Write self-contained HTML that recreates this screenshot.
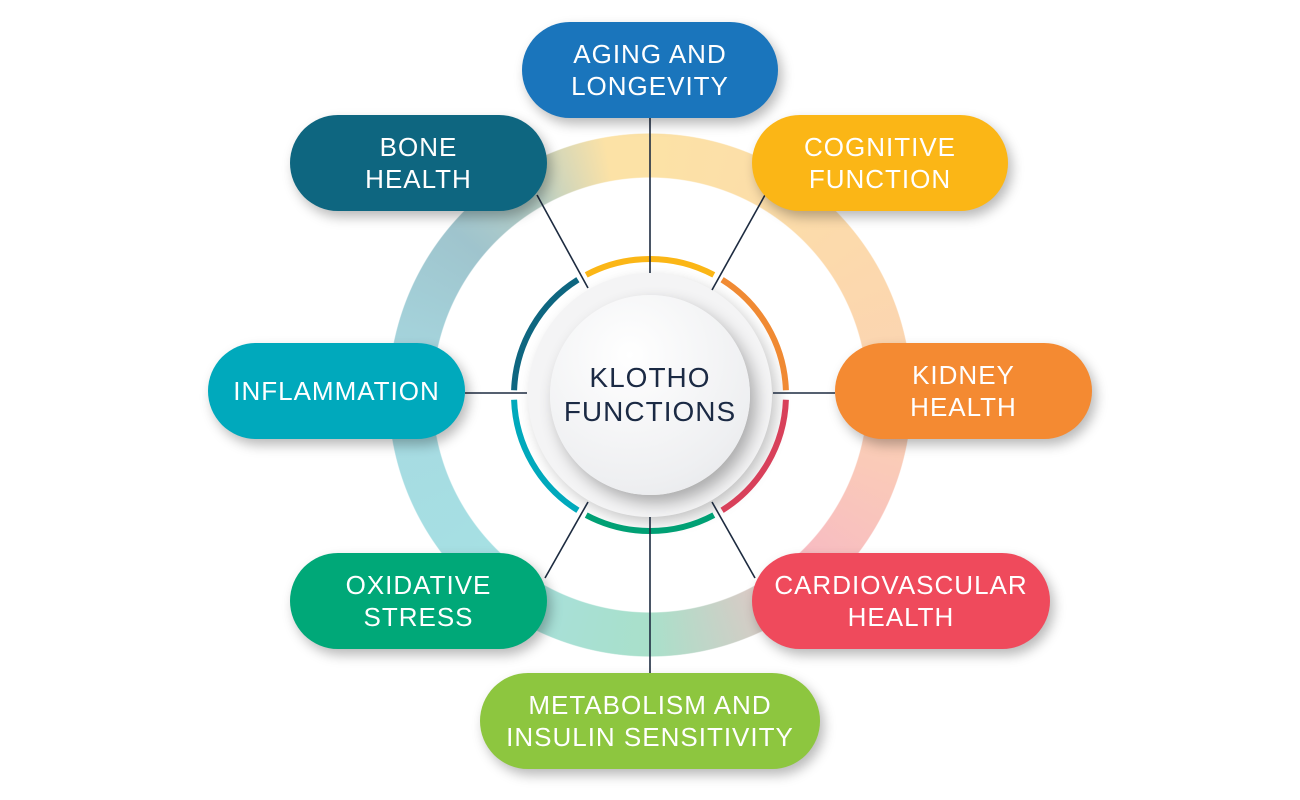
<!DOCTYPE html>
<html><head><meta charset="utf-8"><style>
body{margin:0;width:1300px;height:800px;background:#fff;position:relative;overflow:hidden;font-family:"Liberation Sans",sans-serif}
.ring{position:absolute;left:388px;top:133px;width:524px;height:524px;border-radius:50%;
background:conic-gradient(from 0deg,#fce2a6 0deg,#fcdcaa 40deg,#fbd3b2 90deg,#f8bcc2 135deg,#a9e0ca 180deg,#a6e0e3 225deg,#a7dae2 270deg,#9fc4cd 310deg,#b8cfc6 330deg,#fce2a6 350deg);
-webkit-mask:radial-gradient(circle,transparent 217px,#000 218px,#000 261px,transparent 262px);
mask:radial-gradient(circle,transparent 217px,#000 218px,#000 261px,transparent 262px)}
svg{position:absolute;left:0;top:0}
.p{position:absolute;height:96px;border-radius:48px;color:#fff;display:flex;align-items:center;justify-content:center;text-align:center;font-size:26px;line-height:32px;letter-spacing:1px;box-shadow:4px 6px 12px rgba(0,0,0,.28)}
.c{position:absolute;left:550px;top:295px;width:200px;height:200px;border-radius:50%;background:radial-gradient(circle at 40% 30%,#ffffff,#eeeff1 70%,#e4e5e8);box-shadow:6px 8px 16px rgba(0,0,0,.3);display:flex;align-items:center;justify-content:center;text-align:center;color:#1b2a44;font-size:28px;line-height:34px;letter-spacing:1px}
.c2{position:absolute;left:528px;top:273px;width:244px;height:244px;border-radius:50%;background:#f4f4f5;box-shadow:5px 6px 14px rgba(0,0,0,.22)}
</style></head><body>
<div class="ring"></div>
<div class="c2"></div>
<svg width="1300" height="800">
<g fill="none" stroke-width="6">
<path d="M722.1,279.7 A136,136 0 0 1 785.9,390.25" stroke="#f08a33"/>
<path d="M713.8,274.9 A136,136 0 0 0 586.2,274.9" stroke="#fbb616"/>
<path d="M577.9,279.7 A136,136 0 0 0 514.1,390.25" stroke="#0e6680"/>
<path d="M514.1,399.75 A136,136 0 0 0 577.9,510.3" stroke="#00a9bc"/>
<path d="M586.2,515.1 A136,136 0 0 0 713.8,515.1" stroke="#00a074"/>
<path d="M722.1,510.3 A136,136 0 0 0 785.9,399.75" stroke="#d8405a"/>
</g>
<g stroke="#1d2b40" stroke-width="1.6">
<line x1="650" y1="118" x2="650" y2="273"/>
<line x1="537" y1="195" x2="588" y2="288"/>
<line x1="765" y1="195" x2="712" y2="290"/>
<line x1="465" y1="393" x2="527" y2="393"/>
<line x1="835" y1="393" x2="773" y2="393"/>
<line x1="545" y1="578" x2="588" y2="502"/>
<line x1="755" y1="578" x2="712" y2="502"/>
<line x1="650" y1="673" x2="650" y2="517"/>
</g>
</svg>
<div class="c">KLOTHO<br>FUNCTIONS</div>
<div class="p" style="left:522px;top:22px;width:256px;background:#1a75bc">AGING AND<br>LONGEVITY</div>
<div class="p" style="left:290px;top:115px;width:257px;background:#0e6680">BONE<br>HEALTH</div>
<div class="p" style="left:752px;top:115px;width:256px;background:#fbb616">COGNITIVE<br>FUNCTION</div>
<div class="p" style="left:208px;top:343px;width:257px;background:#00a9bc">INFLAMMATION</div>
<div class="p" style="left:835px;top:343px;width:257px;background:#f48a32">KIDNEY<br>HEALTH</div>
<div class="p" style="left:290px;top:553px;width:257px;background:#00a878">OXIDATIVE<br>STRESS</div>
<div class="p" style="left:752px;top:553px;width:298px;background:#ef4a5c">CARDIOVASCULAR<br>HEALTH</div>
<div class="p" style="left:480px;top:673px;width:340px;background:#8dc63f">METABOLISM AND<br>INSULIN SENSITIVITY</div>
</body></html>
